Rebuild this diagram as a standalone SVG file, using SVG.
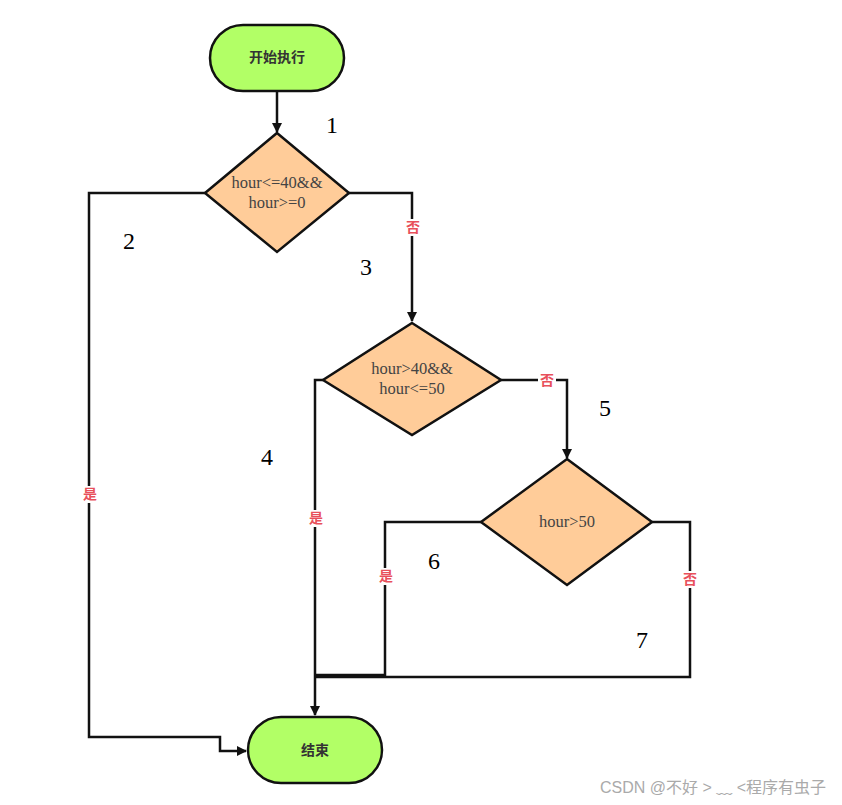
<svg xmlns="http://www.w3.org/2000/svg" width="842" height="805" viewBox="0 0 842 805">
<style>
.term{fill:#b2ff66;stroke:#111;stroke-width:2.5}
.dia{fill:#ffcc99;stroke:#111;stroke-width:2.5}
.tt{font-family:"Noto Sans CJK SC","Noto Sans",sans-serif;font-weight:bold;font-size:14px;fill:#333;text-anchor:middle}
.dt{font-family:"Liberation Serif",serif;font-size:16.5px;fill:#444;text-anchor:middle}
.ln{fill:none;stroke:#111;stroke-width:2.5}
.lb{font-family:"Noto Sans CJK SC",sans-serif;font-weight:bold;font-size:14px;fill:#e8505b;text-anchor:middle}
.num{font-family:"Liberation Serif",serif;font-size:24px;fill:#000;text-anchor:middle}
</style>
<defs>
<marker id="ah" markerWidth="10" markerHeight="10" refX="9" refY="5" orient="auto" markerUnits="userSpaceOnUse" viewBox="0 0 10 10">
<path d="M0,0 L10,5 L0,10 z" fill="#111"/>
</marker>
</defs>
<rect width="842" height="805" fill="#fff"/>
<g id="connectors">
<path class="ln" d="M277,91 V132" marker-end="url(#ah)"/>
<path class="ln" d="M205,193 H89 V737 H220 V751 H246" marker-end="url(#ah)"/>
<path class="ln" d="M349,193 H412 V321" marker-end="url(#ah)"/>
<path class="ln" d="M323,380 H315 V715" marker-end="url(#ah)"/>
<path class="ln" d="M501,380 H567 V458" marker-end="url(#ah)"/>
<path class="ln" d="M481,522 H385 V675 H315"/>
<path class="ln" d="M652,522 H690 V677 H315"/>
<rect x="81" y="486" width="18" height="17" fill="#fff"/>
<text class="lb" x="90" y="499">是</text>
<rect x="404" y="219" width="18" height="17" fill="#fff"/>
<text class="lb" x="413" y="232">否</text>
<rect x="307" y="510" width="18" height="17" fill="#fff"/>
<text class="lb" x="316" y="523">是</text>
<rect x="538" y="372" width="18" height="17" fill="#fff"/>
<text class="lb" x="547" y="385">否</text>
<rect x="377" y="568" width="18" height="17" fill="#fff"/>
<text class="lb" x="386" y="581">是</text>
<rect x="681" y="571" width="18" height="17" fill="#fff"/>
<text class="lb" x="690" y="584">否</text>
</g>
<g id="start">
<rect class="term" x="210" y="25" width="134" height="66" rx="33" ry="33"/>
<text class="tt" x="277" y="62">开始执行</text>
</g>
<g id="cond1">
<polygon class="dia" points="277,133 349,193 277,252 205,193"/>
<text class="dt" x="277" y="188">hour&lt;=40&amp;&amp;</text>
<text class="dt" x="277" y="208">hour&gt;=0</text>
</g>
<g id="cond2">
<polygon class="dia" points="412,323 501,380 412,435 323,380"/>
<text class="dt" x="412" y="374">hour&gt;40&amp;&amp;</text>
<text class="dt" x="412" y="394">hour&lt;=50</text>
</g>
<g id="cond3">
<polygon class="dia" points="567,459 652,522 567,585 481,522"/>
<text class="dt" x="567" y="527">hour&gt;50</text>
</g>
<g id="end">
<rect class="term" x="248" y="717" width="134" height="66" rx="33" ry="33"/>
<text class="tt" x="315" y="755">结束</text>
</g>
<g id="numbers">
<text class="num" x="332" y="133">1</text>
<text class="num" x="129" y="249">2</text>
<text class="num" x="366" y="275">3</text>
<text class="num" x="267" y="465">4</text>
<text class="num" x="605" y="416">5</text>
<text class="num" x="434" y="569">6</text>
<text class="num" x="642" y="648">7</text>
</g>
<text x="826" y="793" text-anchor="end" font-family="'Liberation Sans','Noto Sans CJK SC',sans-serif" font-size="16" fill="#aaa">CSDN @不好 &gt; ﹏ &lt;程序有虫子</text>
</svg>
